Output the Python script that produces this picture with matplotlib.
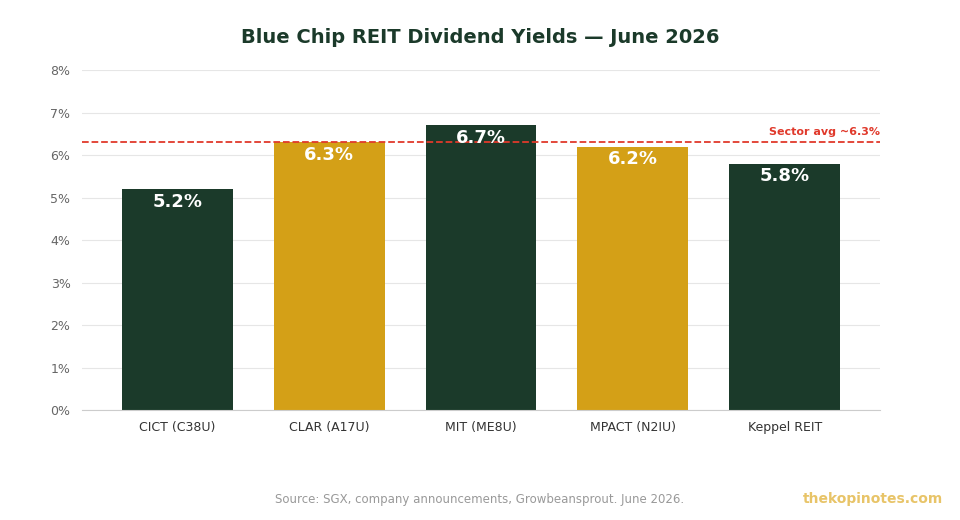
import matplotlib.pyplot as plt

reits = ["CICT (C38U)", "CLAR (A17U)", "MIT (ME8U)", "MPACT (N2IU)", "Keppel REIT"]
yields = [5.2, 6.3, 6.7, 6.2, 5.8]
sector_avg = 6.3

green = "#1b3a2a"
gold = "#d4a017"
colors = [green, gold, green, gold, green]

fig = plt.figure(figsize=(9.6, 5.2), dpi=100)
ax = fig.add_axes([0.085, 0.2115, 0.832, 0.6535])

x = range(len(reits))
ax.bar(x, yields, width=0.73, color=colors, zorder=2)
for i, v in zip(x, yields):
    ax.text(i, v - 0.3, f"{v}%", ha="center", va="center", color="white",
            fontsize=13, fontweight="bold", zorder=4)

ax.axhline(sector_avg, color="#e0392b", linestyle="--", linewidth=1.3, zorder=3)
ax.text(4.63, sector_avg + 0.12, "Sector avg ~6.3%", ha="right", va="bottom",
        color="#e0392b", fontsize=8, fontweight="bold")

ax.set_xlim(-0.63, 4.63)
ax.set_ylim(0, 8)
ax.set_yticks(range(9))
ax.set_yticklabels([f"{i}%" for i in range(9)])
ax.set_xticks(list(x))
ax.set_xticklabels(reits)
ax.tick_params(axis="both", length=0, labelsize=9, colors="#333333")
ax.tick_params(axis="y", colors="#666666", pad=8)
ax.tick_params(axis="x", pad=8)
ax.grid(axis="y", color="#e6e6e6", linewidth=0.8, zorder=0)
for s in ["top", "right", "left"]:
    ax.spines[s].set_visible(False)
ax.spines["bottom"].set_color("#cccccc")

fig.text(0.5, 0.927, "Blue Chip REIT Dividend Yields — June 2026", ha="center", va="center",
         fontsize=14, fontweight="bold", color=green)
fig.text(0.5, 0.04, "Source: SGX, company announcements, Growbeansprout. June 2026.",
         ha="center", va="center", fontsize=8.5, color="#999999")
fig.text(0.982, 0.04, "thekopinotes.com", ha="right", va="center",
         fontsize=10, fontweight="bold", color="#e8c468")

fig.savefig("out.png", dpi=100)
